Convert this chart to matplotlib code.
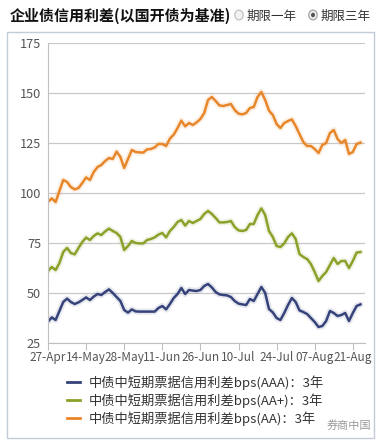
import matplotlib
matplotlib.use("Agg")
import matplotlib.pyplot as plt
from matplotlib.patches import Rectangle, Circle
import numpy as np

plt.rcParams['font.family'] = ['Noto Sans CJK SC', 'DejaVu Sans']

title = "企业债信用利差(以国开债为基准)"
radio_labels = ["期限一年", "期限三年"]
tick_labels = ["27-Apr", "14-May", "28-May", "11-Jun", "26-Jun", "10-Jul", "24-Jul", "07-Aug", "21-Aug"]
tick_index = [0, 10, 20, 30, 40, 50, 60, 70, 80]
series_names = ["中债中短期票据信用利差bps(AAA)：3年",
                "中债中短期票据信用利差bps(AA+)：3年",
                "中债中短期票据信用利差bps(AA)：3年"]

aaa = [35.7, 37.8, 36.5, 41, 45.5, 47.2, 45.5, 44.5, 45.3, 46.5,
       47.8, 46.5, 48.2, 49.5, 49, 50.5, 51.8, 50, 48, 46,
       41.5, 40.2, 41.8, 40.8, 40.7, 40.7, 40.7, 40.7, 40.7, 42.5,
       43.5, 41.8, 44.5, 47.5, 49.5, 52.5, 49.5, 51.5, 51.2, 51,
       51.5, 53.5, 54.5, 52.8, 50.5, 49.3, 49, 48.8, 48, 46,
       44.7, 44.3, 44, 47, 46, 49.5, 53, 50, 42, 40.3,
       37.5, 36.5, 40, 44, 47.5, 45.5, 41.3, 40.5, 39.5, 37.5,
       35.5, 33, 33.5, 36, 41, 40, 38.5, 39, 40, 36,
       40, 43.5, 44.3]
aa_plus = [61, 63, 61.5, 65, 70.5, 72.5, 70, 69.3, 72.5, 75.5,
           77.7, 76.5, 78.5, 79.8, 79, 80.8, 82.2, 81, 80, 78,
           71.5, 73.5, 76, 75, 74.8, 74.8, 76.5, 77, 77.8, 79.2,
           80, 77.8, 81, 83, 85.5, 86.5, 83.7, 86, 85, 86,
           87, 89.5, 91, 89.5, 87.5, 85.3, 85.3, 85.5, 86, 83,
           81.3, 81, 81.5, 84.5, 84.5, 89, 92.3, 89, 81, 78,
           73.5, 73, 74.8, 78, 79.8, 77, 69.5, 68, 67, 64.5,
           60.5, 56, 58.5, 60.5, 64, 67.5, 64.5, 66, 66, 62.5,
           66, 70.2, 70.5]
aa = [95.6, 97.3, 95.5, 101, 106.5, 105.5, 103, 101.8, 102.5, 105,
      107.8, 106.5, 110.5, 113, 114, 116, 117.5, 117, 120.7, 118,
      112.5, 117, 121.5, 120.5, 120.3, 120.2, 121.8, 122, 122.8, 124.5,
      124.5, 123.5, 127.2, 129.2, 132.5, 136.2, 133.3, 135, 134, 135.3,
      137, 140, 146.5, 148, 146, 143.8, 143.5, 144, 144.5, 141.5,
      139.7, 139.3, 140, 142.5, 143, 148, 150.5, 146.5, 141.2, 139,
      134.5, 132.5, 135, 136, 136.8, 133.5, 129.5, 125.5, 123.5, 123.5,
      122, 120, 124, 125, 130, 131.5, 127, 125, 126.5, 119.5,
      120.5, 124.5, 125.2]

colors = ["#36437a", "#8aa12a", "#e8862a"]

W, H = 380, 441
fig = plt.figure(figsize=(W / 100, H / 100), dpi=100)
fig.patch.set_facecolor("white")

# outer frame
fig.patches.append(Rectangle((7 / W, 1 - 438 / H), (374 - 7) / W, (438 - 32) / H,
                             transform=fig.transFigure, fill=False,
                             edgecolor="#c3cad8", linewidth=1.0))

# title and radio buttons
fig.text(10 / W, 1 - 16 / H, title, fontsize=10.8, fontweight="bold",
         color="#111111", va="center", ha="left")
fig.patches.append(Circle((239 / W, 1 - 15 / H), 4.2 / W, transform=fig.transFigure,
                          facecolor="#f2f2f2", edgecolor="#bbbbbb", linewidth=0.8))
fig.text(247 / W, 1 - 16 / H, radio_labels[0], fontsize=9, color="#333333",
         va="center", ha="left")
fig.patches.append(Circle((313 / W, 1 - 15 / H), 4.2 / W, transform=fig.transFigure,
                          facecolor="#f2f2f2", edgecolor="#999999", linewidth=0.8))
fig.patches.append(Circle((313 / W, 1 - 15 / H), 2.0 / W, transform=fig.transFigure,
                          facecolor="#555555", edgecolor="none"))
fig.text(321 / W, 1 - 16 / H, radio_labels[1], fontsize=9, color="#333333",
         va="center", ha="left")

ax = fig.add_axes([48 / W, 1 - 343 / H, (365 - 48) / W, (343 - 43) / H])
x = np.arange(len(aa))
for ys, c, name in zip([aaa, aa_plus, aa], colors, series_names):
    ax.plot(x, ys, color=c, linewidth=4.5, alpha=0.12, solid_capstyle="round")
    ax.plot(x, ys, color=c, linewidth=1.8, label=name, solid_joinstyle="round")

ax.set_xlim(0, 83.2)
ax.set_ylim(25, 175)
ax.set_yticks([25, 50, 75, 100, 125, 150, 175])
ax.set_xticks(tick_index)
ax.set_xticklabels(tick_labels)
ax.grid(axis="y", color="#c8c8c8", linewidth=0.9)
ax.set_axisbelow(True)
for s in ["top", "right"]:
    ax.spines[s].set_visible(False)
ax.spines["left"].set_color("#c0c0c0")
ax.spines["bottom"].set_color("#c0c0c0")
ax.tick_params(axis="y", length=0, pad=5, labelsize=9.2, labelcolor="#555555")
ax.tick_params(axis="x", length=5, color="#c0c0c0", pad=1, labelsize=8.5,
               labelcolor="#555555")

# legend
leg = fig.legend(loc="upper left", bbox_to_anchor=(62 / W, 1 - 370 / H),
                 borderaxespad=0, frameon=False, fontsize=9.5, handlelength=1.0,
                 handletextpad=0.6, labelspacing=0.25, labelcolor="#333333")
for h in leg.legend_handles:
    h.set_linewidth(2)

fig.text(327 / W, 1 - 425 / H, "券商中国", fontsize=8, color="#9a9a9a",
         va="center", ha="left")

fig.savefig("out.png", dpi=100, facecolor="white")
